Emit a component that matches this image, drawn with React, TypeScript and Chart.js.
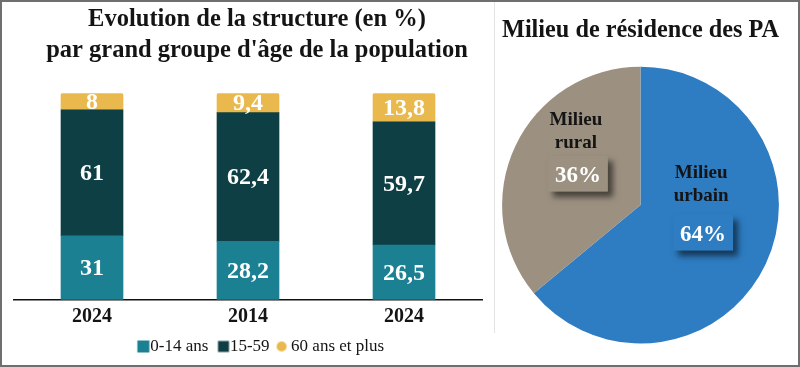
import React, { useEffect, useRef } from "react";
import { Chart, registerables } from "chart.js";

Chart.register(...registerables);

// ---- data ----
const years = ["2024", "2014", "2024"];
const young = [31, 28.2, 26.5];
const adults = [61, 62.4, 59.7];
const seniors = [8, 9.4, 13.8];
const seriesNames = ["0-14 ans", "15-59", "60 ans et plus"];
const barTitle = ["Evolution de la structure (en %)", "par grand groupe d'âge de la population"];

const pieTitle = "Milieu de résidence des PA";
const zones = ["Milieu urbain", "Milieu rural"];
const zoneLines = [["Milieu", "urbain"], ["Milieu", "rural"]];
const zoneShares = [64, 36];

// ---- styles ----
const FONT = "'Liberation Serif', 'Times New Roman', serif";
const TEAL = "#1b8192";
const DARK = "#0d3f45";
const GOLD = "#e9b94d";
const BLUE = "#2e7cc1";
const GREY = "#9c9081";
const INK = "#141414";

Chart.defaults.font.family = FONT;

function marker(color: string, shape: "rect" | "circle", size: number, left: number) {
  const c = document.createElement("canvas");
  c.width = 40;
  c.height = 14;
  const ctx = c.getContext("2d")!;
  ctx.fillStyle = color;
  const x0 = left + 14;
  if (shape === "circle") {
    ctx.beginPath();
    ctx.arc(x0 + size / 2, 7, size / 2, 0, Math.PI * 2);
    ctx.fill();
  } else {
    ctx.fillRect(x0, 7 - size / 2, size, size);
  }
  return c;
}

const barValueLabels = {
  id: "barValueLabels",
  afterDatasetsDraw(chart: any) {
    const ctx = chart.ctx;
    ctx.save();
    ctx.font = `bold 24px ${FONT}`;
    ctx.fillStyle = "#ffffff";
    ctx.textAlign = "center";
    ctx.textBaseline = "middle";
    chart.data.datasets.forEach((ds: any, di: number) => {
      const meta = chart.getDatasetMeta(di);
      meta.data.forEach((el: any, i: number) => {
        const v = ds.data[i];
        const { x, y, base } = el.getProps(["x", "y", "base"], true);
        ctx.fillText(String(v).replace(".", ","), x, (y + base) / 2 + 1);
      });
    });
    ctx.restore();
  },
};

const nameOffsets = [-61, -56];

const pieLabels = {
  id: "pieLabels",
  afterDatasetsDraw(chart: any) {
    const ctx = chart.ctx;
    const ds = chart.data.datasets[0];
    const meta = chart.getDatasetMeta(0);
    meta.data.forEach((arc: any, i: number) => {
      const { x, y } = arc.getCenterPoint();
      ctx.save();
      ctx.shadowColor = "rgba(0,0,0,0.55)";
      ctx.shadowBlur = 6;
      ctx.shadowOffsetX = 5;
      ctx.shadowOffsetY = 5;
      ctx.fillStyle = ds.backgroundColor[i];
      ctx.fillRect(x - 30, y - 20, 60, 36);
      ctx.restore();

      ctx.save();
      ctx.textAlign = "center";
      ctx.textBaseline = "middle";
      ctx.fillStyle = "#ffffff";
      ctx.font = `bold 23px ${FONT}`;
      ctx.fillText(`${ds.data[i]}%`, x, y);
      ctx.fillStyle = INK;
      ctx.font = `bold 19px ${FONT}`;
      zoneLines[i].forEach((line, li) => {
        ctx.fillText(line, x - 2, y + nameOffsets[i] + li * 23);
      });
      ctx.restore();
    });
  },
};

function BarPanel() {
  const ref = useRef<HTMLCanvasElement>(null);
  useEffect(() => {
    const markers = [
      marker(TEAL, "rect", 12, 7.5),
      marker(DARK, "rect", 11, 8.5),
      marker(GOLD, "circle", 10, 6),
    ];
    const chart = new Chart(ref.current!, {
      type: "bar",
      data: {
        labels: years,
        datasets: [
          { label: seriesNames[0], data: young, backgroundColor: TEAL, barThickness: 62 },
          { label: seriesNames[1], data: adults, backgroundColor: DARK, barThickness: 62 },
          {
            label: seriesNames[2],
            data: seniors,
            backgroundColor: GOLD,
            barThickness: 62,
            borderRadius: { topLeft: 2, topRight: 2, bottomLeft: 0, bottomRight: 0 },
            borderSkipped: false,
          },
        ],
      },
      options: {
        responsive: false,
        animation: false,
        events: [],
        layout: { padding: 0 },
        scales: {
          x: {
            stacked: true,
            grid: { display: false, drawTicks: false },
            border: { display: true, color: "#111", width: 1.5 },
            ticks: { color: INK, padding: 5, font: { size: 20, weight: "bold" } },
            afterFit: (s: any) => {
              s.height = 37.3;
            },
          },
          y: {
            stacked: true,
            min: 0,
            max: 100,
            grid: { display: false, drawTicks: false },
            border: { display: false },
            ticks: { display: false },
            afterFit: (s: any) => {
              s.width = 12;
            },
          },
          yr: {
            position: "right",
            grid: { display: false, drawTicks: false },
            border: { display: false },
            ticks: { display: false },
            afterFit: (s: any) => {
              s.width = 30;
            },
          },
        },
        plugins: {
          tooltip: { enabled: false },
          title: {
            display: true,
            text: barTitle,
            color: INK,
            font: { size: 24.5, weight: "bold", lineHeight: 1.23 },
            padding: { top: 3, bottom: 28 },
          },
          legend: {
            position: "bottom",
            labels: {
              color: INK,
              font: { size: 17 },
              boxWidth: 12,
              boxHeight: 12,
              padding: 1,
              usePointStyle: true,
              generateLabels: (c: any) =>
                c.data.datasets.map((ds: any, i: number) => ({
                  text: ds.label,
                  fillStyle: ds.backgroundColor,
                  strokeStyle: ds.backgroundColor,
                  lineWidth: 0,
                  pointStyle: markers[i],
                  datasetIndex: i,
                  hidden: false,
                  fontColor: INK,
                })),
            },
          },
        },
      } as any,
      plugins: [barValueLabels],
    });
    return () => chart.destroy();
  }, []);
  return (
    <canvas
      ref={ref}
      width={510}
      height={363}
      style={{ position: "absolute", left: 0, top: 0, width: 510, height: 363 }}
    />
  );
}

function PiePanel() {
  const ref = useRef<HTMLCanvasElement>(null);
  useEffect(() => {
    const chart = new Chart(ref.current!, {
      type: "pie",
      data: {
        labels: zones,
        datasets: [{ data: zoneShares, backgroundColor: [BLUE, GREY], borderWidth: 0 }],
      },
      options: {
        responsive: false,
        animation: false,
        events: [],
        layout: { padding: { left: 7, right: 19, top: 0, bottom: 21.5 } },
        plugins: {
          tooltip: { enabled: false },
          legend: { display: false },
          title: {
            display: true,
            text: pieTitle,
            color: INK,
            font: { size: 24.5, weight: "bold", lineHeight: 1.2 },
            padding: { top: 13.7, bottom: 21.6 },
          },
        },
      } as any,
      plugins: [pieLabels],
    });
    return () => chart.destroy();
  }, []);
  return (
    <canvas
      ref={ref}
      width={303}
      height={363}
      style={{ position: "absolute", left: 493, top: 0, width: 303, height: 363 }}
    />
  );
}

export default function App() {
  return (
    <div
      style={{
        position: "absolute",
        left: 0,
        top: 0,
        width: 800,
        height: 367,
        boxSizing: "border-box",
        border: "2px solid #6f6f6f",
        background: "#ffffff",
        overflow: "hidden",
      }}
    >
      <div
        style={{
          position: "absolute",
          left: 492,
          top: 0,
          width: 1,
          height: 331,
          background: "#e4e4e4",
        }}
      />
      <BarPanel />
      <PiePanel />
    </div>
  );
}
